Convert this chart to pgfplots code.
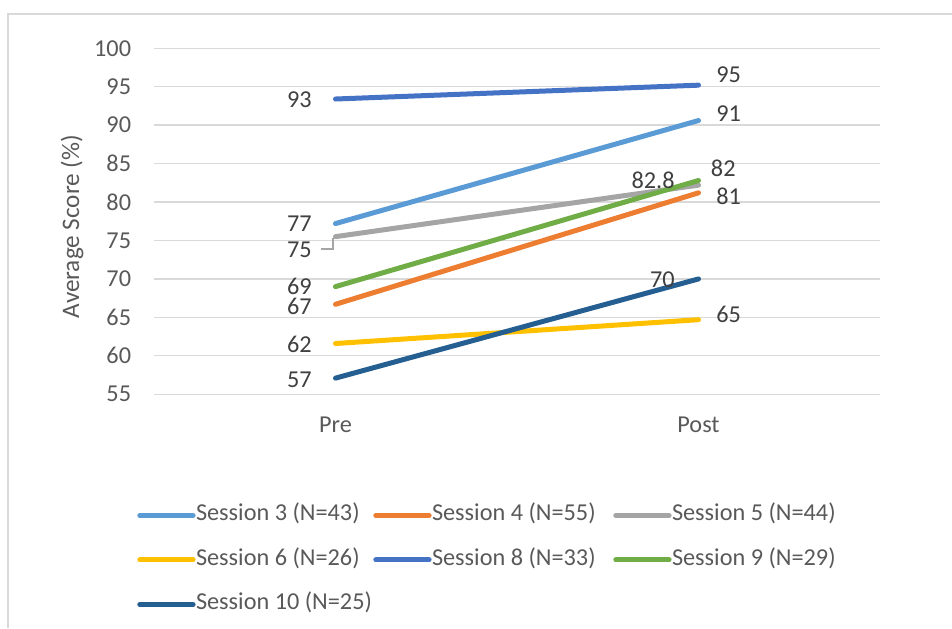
\documentclass[border=0pt]{standalone}
\usepackage{pgfplots}
\pgfplotsset{compat=1.18}
\usepackage{fontspec}
\setmainfont{Carlito}
\definecolor{sA}{HTML}{5B9BD5}
\definecolor{sB}{HTML}{ED7D31}
\definecolor{sC}{HTML}{A5A5A5}
\definecolor{sD}{HTML}{FFC000}
\definecolor{sE}{HTML}{4472C4}
\definecolor{sF}{HTML}{70AD47}
\definecolor{sG}{HTML}{255E91}
\definecolor{gridgray}{HTML}{D9D9D9}
\definecolor{txtgray}{HTML}{595959}
\definecolor{labgray}{HTML}{404040}
\newcommand\fsz{\fontsize{18.2}{21}\selectfont}
\tikzset{lab/.style={font=\fsz, text=labgray, inner sep=0pt}}
\begin{document}
\begin{tikzpicture}
\useasboundingbox (0,0) rectangle (714pt,471pt);
\draw[color=gridgray, line width=1.1pt] (6pt,0pt) -- (6pt,460.5pt) -- (714pt,460.5pt);
\begin{axis}[
  at={(115.5pt,175.3pt)}, anchor=south west, scale only axis,
  width=544.5pt, height=259.5pt,
  xmin=-0.5, xmax=1.5, ymin=55, ymax=100,
  xtick={0,1}, xticklabels={Pre,Post}, ytick={55,60,...,100},
  axis line style={draw=none}, major tick length=0pt,
  ymajorgrids, grid style={gridgray, line width=1pt},
  /pgf/number format/assume math mode=true,
  tick label style={font=\fsz, text=txtgray, inner sep=0pt},
  yticklabel style={anchor=east, xshift=-17pt},
  xticklabel style={anchor=north, yshift=-16.8pt},
  ylabel={Average Score (\%)},
  every axis y label/.style={at={(axis description cs:-0.113,0.485)}, rotate=90, anchor=center, font=\fontsize{18.9}{22}\selectfont, text=txtgray},
  legend columns=3,
  legend cell align=left,
  legend style={at={(axis description cs:-0.0234,-0.3166)}, anchor=north west, draw=none, fill=none, font=\fsz, text=txtgray, inner sep=0pt,
    nodes={inner sep=0pt, text height=12.5pt, text depth=4.5pt}, row sep=16.4pt,
    /tikz/every odd column/.append style={column sep=0.3pt}},
  legend image code/.code={\draw[#1, line width=3.75pt, line cap=round] (0pt,0pt) -- (40pt,0pt);},
  every axis plot/.append style={line width=3.75pt, line cap=round},
  clip=false,
]
\addplot[sA] coordinates {(0,77.2) (1,90.6)};
\addlegendentry{\makebox[132.95pt][l]{Session 3 (N=43)}}
\addplot[sB] coordinates {(0,66.7) (1,81.2)};
\addlegendentry{\makebox[135.95pt][l]{Session 4 (N=55)}}
\addplot[sC] coordinates {(0,75.5) (1,82.2)};
\addlegendentry{Session 5 (N=44)}
\addplot[sD] coordinates {(0,61.6) (1,64.7)};
\addlegendentry{\makebox[132.95pt][l]{Session 6 (N=26)}}
\addplot[sE] coordinates {(0,93.4) (1,95.2)};
\addlegendentry{\makebox[135.95pt][l]{Session 8 (N=33)}}
\addplot[sF] coordinates {(0,69.0) (1,82.8)};
\addlegendentry{Session 9 (N=29)}
\addplot[sG] coordinates {(0,57.1) (1,70.0)};
\addlegendentry{\makebox[132.95pt][l]{Session 10 (N=25)}}
% data labels
\node[lab, anchor=east] at (axis cs:-0.0647,93.27) {93};
\node[lab, anchor=east] at (axis cs:-0.0647,77.15) {77};
\node[lab, anchor=east] at (axis cs:-0.0647,73.77) {75};
\node[lab, anchor=east] at (axis cs:-0.0647,68.99) {69};
\node[lab, anchor=east] at (axis cs:-0.0647,66.41) {67};
\node[lab, anchor=east] at (axis cs:-0.0647,61.48) {62};
\node[lab, anchor=east] at (axis cs:-0.0647,56.92) {57};
\node[lab, anchor=west] at (axis cs:1.0482,96.57) {95};
\node[lab, anchor=west] at (axis cs:1.0482,91.49) {91};
\node[lab, anchor=west] at (axis cs:1.0336,84.34) {82};
\node[lab, anchor=east] at (axis cs:0.935,82.77) {82.8};
\node[lab, anchor=west] at (axis cs:1.0482,80.70) {81};
\node[lab, anchor=east] at (axis cs:0.935,69.87) {70};
\node[lab, anchor=west] at (axis cs:1.0482,65.42) {65};
\draw[sC, line width=1pt] (axis cs:-0.0408,73.9) -- (axis cs:-0.0069,73.9) -- (axis cs:-0.0069,75.26);
\end{axis}
\end{tikzpicture}
\end{document}
